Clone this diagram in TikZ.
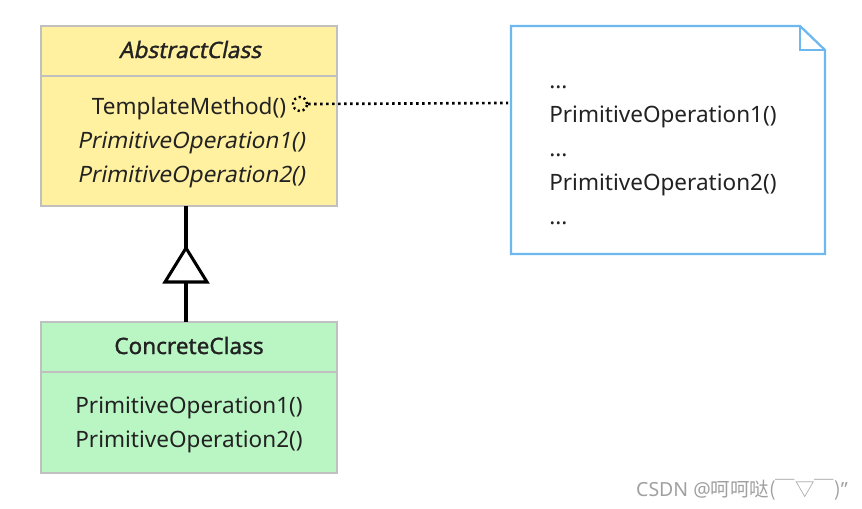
\documentclass[tikz,border=0pt]{standalone}
\usepackage{fontspec}
\setmainfont{Noto Sans}
\newfontfamily\slantfont{Noto Sans}[FakeSlant=0.2]
\newfontfamily\heavyfont{Noto Sans}[FakeBold=1.2]
\newfontfamily\heavyslantfont{Noto Sans}[FakeBold=1.2,FakeSlant=0.2]
\newfontfamily\cjkfont{Noto Sans CJK SC}
\definecolor{absfill}{RGB}{255,241,160}
\definecolor{confill}{RGB}{186,246,196}
\definecolor{boxline}{RGB}{192,192,192}
\definecolor{noteline}{RGB}{110,184,240}
\definecolor{txt}{RGB}{34,34,34}
\definecolor{wm}{RGB}{160,160,160}
\tikzset{
  classbox/.style={draw=boxline, line width=2.2pt},
  lbl/.style={inner sep=0pt, text=txt, font=\fontsize{16.9}{19}\selectfont},
  slbl/.style={lbl, font=\fontsize{16.9}{19}\selectfont\slantfont},
  conn/.style={line width=2.3pt, black},
  dotline/.style={line width=2pt, dash pattern=on 1.8pt off 2.7pt},
}
\begin{document}
\begin{tikzpicture}[x=0.75pt,y=-0.75pt]
\useasboundingbox (0,0) rectangle (862,508);
% Abstract class
\filldraw[classbox, fill=absfill] (41,26) rectangle (337,206);
\draw[classbox] (41,76) -- (337,76);
\node[lbl, anchor=base, font=\fontsize{16.9}{19}\selectfont\heavyslantfont] (acname) at (190,58) {AbstractClass};
\node[lbl, anchor=base] (tm) at (189,114) {TemplateMethod()};
\node[slbl, anchor=base] (ap1) at (191,148) {PrimitiveOperation1()};
\node[slbl, anchor=base] (ap2) at (191,182) {PrimitiveOperation2()};
\coordinate (acs) at (186,206);
% Concrete class
\filldraw[classbox, fill=confill] (41,322) rectangle (337,473);
\draw[classbox] (41,372) -- (337,372);
\node[lbl, anchor=base, font=\fontsize{16.9}{19}\selectfont\heavyfont] (ccname) at (189,354) {ConcreteClass};
\node[lbl, anchor=base] (cp1) at (189,413) {PrimitiveOperation1()};
\node[lbl, anchor=base] (cp2) at (189,447) {PrimitiveOperation2()};
\coordinate (ccn) at (186,322);
% generalization
\coordinate (ta) at (186,248);
\coordinate (tb) at (186,282);
\draw[conn] (acs) -- (ta);
\draw[conn] (tb) -- (ccn);
\draw[conn, line join=miter] (ta) -- (165,282) -- (207,282) -- cycle;
% note
\draw[draw=noteline, line width=1.7pt, fill=white] (511,26) -- (800,26) -- (825,50) -- (825,254) -- (511,254) -- cycle;
\draw[draw=noteline, line width=1.7pt] (800,26) -- (800,50) -- (825,50);
\coordinate (notew) at (508,103);
\node[lbl, anchor=base west] (n1) at (549,88) {...};
\node[lbl, anchor=base west] (n2) at (549,122) {PrimitiveOperation1()};
\node[lbl, anchor=base west] (n3) at (549,156) {...};
\node[lbl, anchor=base west] (n4) at (549,190) {PrimitiveOperation2()};
\node[lbl, anchor=base west] (n5) at (549,224) {...};
% dotted connector
\node[draw, circle, line width=1.8pt, dash pattern=on 1.6pt off 2.2pt, minimum size=14*0.75pt, inner sep=0pt] (dot) at (300,104) {};
\draw[dotline] (dot.east) -- (notew);
% watermark
\node[anchor=base east, inner sep=0pt, text=wm, font=\fontsize{14.6}{16}\selectfont] (wmk) at (848,496) {CSDN @{\cjkfont 呵呵哒(￣▽￣)}"};
\end{tikzpicture}
\end{document}
